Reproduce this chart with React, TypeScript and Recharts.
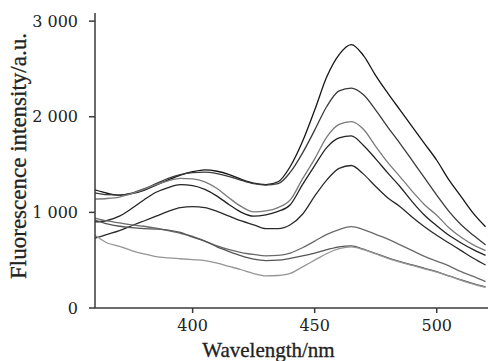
import { LineChart, Line, XAxis, YAxis } from "recharts";

const wavelengths = [
  360, 365, 370, 375, 380, 385, 390, 395, 400, 405, 410, 415, 420, 425, 430,
  435, 440, 445, 450, 455, 460, 465, 470, 475, 480, 485, 490, 495, 500, 505,
  510, 515, 520,
];

const curve1 = [
  1235, 1200, 1180, 1195, 1230, 1285, 1340, 1390, 1425, 1445, 1430, 1395, 1345,
  1305, 1290, 1320, 1480, 1740, 2070, 2420, 2650, 2755, 2640, 2430, 2245, 2070,
  1895, 1720, 1545, 1340, 1165, 990, 850,
];
const curve2 = [
  1205, 1185, 1180, 1200, 1245, 1300, 1355, 1395, 1415, 1420, 1405, 1375, 1335,
  1300, 1285, 1300, 1420, 1620, 1860, 2110, 2270, 2300, 2230, 2070, 1890, 1720,
  1540, 1360, 1180, 1010, 870, 760, 660,
];
const curve3 = [
  1140, 1145, 1160, 1195, 1240, 1290, 1330, 1355, 1350, 1320, 1250, 1150, 1060,
  1005, 1015, 1050, 1130, 1350, 1560, 1790, 1920, 1950, 1870, 1690, 1520, 1372,
  1220, 1080, 970, 840, 740, 660, 600,
];
const curve4 = [
  900, 915, 960, 1040, 1130, 1210, 1260, 1290, 1280, 1240, 1170, 1080, 1000,
  960, 975, 1010, 1080, 1290, 1490, 1680, 1780, 1800, 1700, 1560, 1410, 1268,
  1110, 970, 860, 760, 680, 610, 550,
];
const curve5 = [
  730, 770, 810, 860, 910, 960, 1010, 1050, 1060, 1050, 1010, 960, 910, 870,
  830, 830, 870, 980, 1170, 1340, 1460, 1490, 1400, 1270, 1150, 1060, 950, 850,
  760, 680, 600, 520, 450,
];
const curve6 = [
  940, 910, 890, 870, 855, 835, 810, 780, 750, 700, 650, 610, 580, 560, 545,
  550, 575, 630, 700, 770, 820, 850, 820, 770, 720, 660, 600, 540, 490, 440,
  380, 330, 275,
];
const curve7 = [
  920, 880, 855, 840, 830, 825, 815, 790, 740, 700, 640, 590, 545, 510, 495,
  500, 520, 545, 575, 610, 640, 650, 615, 570, 525, 485, 450, 415, 380, 335,
  295, 255, 220,
];
const curve8 = [
  760, 680, 645, 600, 565, 538, 525, 515, 505, 495, 470, 435, 400, 360, 335,
  340, 362, 430, 500, 570, 620, 640, 610, 565, 520, 480, 445, 410, 375, 335,
  290, 250, 215,
];

const xTicks = [400, 450, 500];
const yTicks = [0, 1000, 2000, 3000];
const yTickLabels = ["0", "1 000", "2 000", "3 000"];

const series = [
  { key: "c1", values: curve1, color: "#161616" },
  { key: "c2", values: curve2, color: "#3a3a3a" },
  { key: "c3", values: curve3, color: "#7a7a7a" },
  { key: "c4", values: curve4, color: "#222222" },
  { key: "c5", values: curve5, color: "#2a2a2a" },
  { key: "c6", values: curve6, color: "#6a6a6a" },
  { key: "c7", values: curve7, color: "#555555" },
  { key: "c8", values: curve8, color: "#959595" },
];

const data = wavelengths.map((nm, i) => {
  const row: Record<string, number> = { nm };
  series.forEach((s) => {
    row[s.key] = s.values[i];
  });
  return row;
});

const TITLE_FONT = "Liberation Serif";
const TICK_FONT = "DejaVu Serif";

const formatY = (v: number) => yTickLabels[yTicks.indexOf(v)] ?? `${v}`;

const XTitle = ({ viewBox }: any) => (
  <text
    x={viewBox.x + viewBox.width / 2 - 23}
    y={357}
    textAnchor="middle"
    fontFamily={TITLE_FONT}
    fontSize={21}
    fill="#222"
    stroke="#222"
    strokeWidth={0.3}
  >
    Wavelength/nm
  </text>
);

const YTitle = () => (
  <text
    x={26}
    y={156}
    transform="rotate(-90, 26, 156)"
    textAnchor="middle"
    fontFamily={TITLE_FONT}
    fontSize={23}
    fill="#222"
    stroke="#222"
    strokeWidth={0.3}
  >
    Fluorescence intensity/a.u.
  </text>
);

const tickStyle = { fontFamily: TICK_FONT, fontSize: 16, fill: "#222" };

export default function App() {
  return (
    <div style={{ position: "absolute", left: 0, top: 0, background: "#fff" }}>
      <LineChart
        width={489}
        height={361}
        data={data}
        margin={{ top: 13, right: 1, bottom: 0, left: 0 }}
      >
        <XAxis
          dataKey="nm"
          type="number"
          domain={[360, 521]}
          ticks={xTicks}
          allowDataOverflow
          height={53}
          tickSize={5}
          tickMargin={7}
          stroke="#3a3a3a"
          strokeWidth={1.5}
          tick={tickStyle}
          label={<XTitle />}
        />
        <YAxis
          type="number"
          domain={[0, 3085]}
          ticks={yTicks}
          allowDataOverflow
          width={95}
          tickSize={6}
          tickMargin={11}
          stroke="#3a3a3a"
          strokeWidth={1.5}
          tickFormatter={formatY}
          tick={tickStyle}
          label={<YTitle />}
        />
        {series.map((s) => (
          <Line
            key={s.key}
            type="monotone"
            dataKey={s.key}
            stroke={s.color}
            strokeWidth={1.3}
            dot={false}
            activeDot={false}
            isAnimationActive={false}
          />
        ))}
      </LineChart>
    </div>
  );
}
